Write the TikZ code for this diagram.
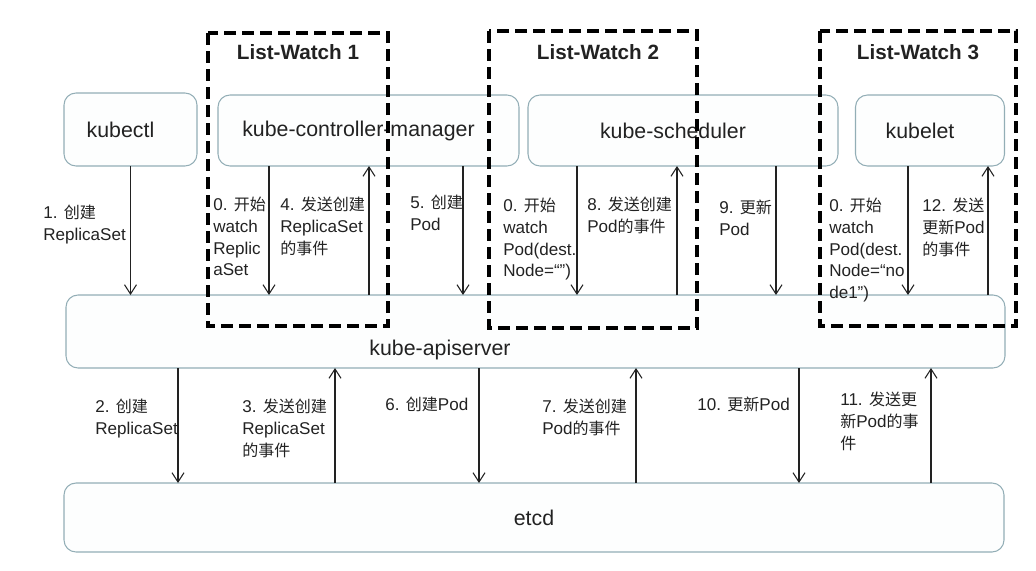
\documentclass[tikz,border=0pt]{standalone}
\usepackage{fontspec}
\setmainfont{Liberation Sans}
\newfontfamily\cjk[Scale=0.94]{Noto Sans CJK SC}
\newcommand\zh[1]{{\cjk #1}}
\usetikzlibrary{arrows.meta}
\definecolor{kwEdge}{HTML}{93AEB6}
\definecolor{kwFill}{HTML}{FDFEFE}
\definecolor{kwInk}{HTML}{222222}
\tikzset{
  kw box/.style={draw=kwEdge, fill=kwFill, line width=0.8pt, rounded corners=9pt, outer sep=0pt, inner sep=0pt, font=\fontsize{16}{19}\selectfont, text=kwInk},
  kw comp/.style={kw box, execute at end node={\hspace*{15pt}}},
  kw size/.style 2 args={minimum width=#1*0.75pt, minimum height=#2*0.75pt},
  kw name/.style={font=\fontsize{16}{19}\selectfont, text=kwInk},
  kw watch/.style={draw=black, line width=3pt, dash pattern=on 9pt off 4.5pt},
  kw title/.style={font=\fontsize{15.5}{18}\selectfont\bfseries, text=kwInk},
  kw arrow/.style={draw=kwInk, line width=0.8pt, -{Straight Barb[length=7pt,width=9pt]}},
  kw note/.style={anchor=north west, align=left, inner sep=0pt, font=\fontsize{12.8}{16.3}\selectfont, text=kwInk},
}

\begin{document}
\begin{tikzpicture}[x=0.75pt,y=-0.75pt]
\useasboundingbox (0,0) rectangle (1036,571);
\node[kw comp,kw size={133}{73}](kubectl)at(130.5,129.5){kubectl};
\node[kw comp,kw size={301}{71}](ctrl)at(368.5,130.5){kube-controller-manager};
\node[kw comp,kw size={310}{71}](sched)at(683,130.5){kube-scheduler};
\node[kw comp,kw size={149}{71}](kubelet)at(930,130.5){kubelet};
\node[kw box,kw size={939}{73}](api)at(535.5,331.5){};\node[kw name](apiname)at(440,350){kube-apiserver};
\node[kw box,kw size={940}{69}](etcd)at(534,517.5){etcd};
\draw[kw arrow](kubectl.south)--(kubectl.south |- api.north);
\foreach \s/\x in {ctrl/269,ctrl/463,sched/577,sched/776,kubelet/908}{\draw[kw arrow](\x,0 |- \s.south)--(\x,0 |- api.north);}
\foreach \s/\x in {ctrl/369,sched/677,kubelet/988}{\draw[kw arrow](\x,0 |- api.north)--(\x,0 |- \s.south);}
\foreach \x in {178,479,799}{\draw[kw arrow](\x,0 |- api.south)--(\x,0 |- etcd.north);}
\foreach \x in {335,636,931}{\draw[kw arrow](\x,0 |- etcd.north)--(\x,0 |- api.south);}
\node[kw note](n1)at(43,205){1. \zh{创建}\\ReplicaSet};
\node[kw note](w1)at(213,197){0. \zh{开始}\\watch\\Replic\\aSet};
\node[kw note](n4)at(280,197){4. \zh{发送创建}\\ReplicaSet\\\zh{的事件}};
\node[kw note](n5)at(410,195){5. \zh{创建}\\Pod};
\node[kw note](w2)at(503,198){0. \zh{开始}\\watch\\Pod(dest.\\Node=“”)};
\node[kw note](n8)at(587,197){8. \zh{发送创建}\\Pod\zh{的事件}};
\node[kw note](n9)at(719,200){9. \zh{更新}\\Pod};
\node[kw note](w3)at(829,198){0. \zh{开始}\\watch\\Pod(dest.\\Node=“no\\de1”)};
\node[kw note](n12)at(922,198){12. \zh{发送}\\\zh{更新}Pod\\\zh{的事件}};
\node[kw note](n2)at(95,399){2. \zh{创建}\\ReplicaSet};
\node[kw note](n3)at(242,399){3. \zh{发送创建}\\ReplicaSet\\\zh{的事件}};
\node[kw note](n6)at(385,397){6. \zh{创建}Pod};
\node[kw note](n7)at(542,399){7. \zh{发送创建}\\Pod\zh{的事件}};
\node[kw note](n10)at(697,397){10. \zh{更新}Pod};
\node[kw note](n11)at(840,392){11. \zh{发送更}\\\zh{新}Pod\zh{的事}\\\zh{件}};
\foreach \l/\t/\r/\b/\c/\n in {208/33/388/326/298/1,489/31/697/328/598/2,820/31/1016/326/918/3}{\draw[kw watch](\l,\t)rectangle(\r,\b);\node[kw title](lw\n)at(\c,52){List-Watch \n};}
\end{tikzpicture}
\end{document}
